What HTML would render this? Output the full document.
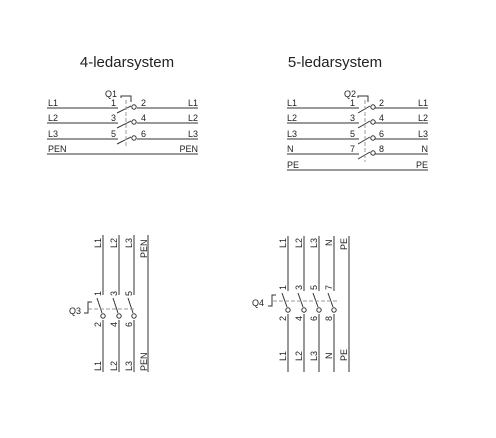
<!DOCTYPE html>
<html><head><meta charset="utf-8"><style>
html,body{margin:0;padding:0;background:#fff;}
svg{display:block;font-family:"Liberation Sans",sans-serif;}
</style></head><body>
<svg width="496" height="438" viewBox="0 0 496 438">
<g stroke="#333" fill="none" stroke-width="1">
<g>
<path d="M47 108H118 M137 108H198 M47 123H118 M137 123H198 M47 139H118 M137 139H198 M47 154H198"/>
<path d="M117 113L131 106 M117 128L131 121 M117 144L131 137"/>
<circle cx="134" cy="107" r="2.2" fill="#fff"/><circle cx="134" cy="122" r="2.2" fill="#fff"/><circle cx="134" cy="138" r="2.2" fill="#fff"/>
<path d="M126 100V146" stroke="#999" stroke-dasharray="4,2"/>
<path d="M121 98V96H131V102"/>
</g>
<g>
<path d="M287 108H359 M375 108H428 M287 123H359 M375 123H428 M287 139H359 M375 139H428 M287 154H359 M375 154H428 M287 170H428"/>
<path d="M358 113L370 106 M358 128L370 121 M358 144L370 137 M358 159L370 152"/>
<circle cx="373" cy="107" r="2.2" fill="#fff"/><circle cx="373" cy="122" r="2.2" fill="#fff"/><circle cx="373" cy="138" r="2.2" fill="#fff"/><circle cx="373" cy="153" r="2.2" fill="#fff"/>
<path d="M365 100V162" stroke="#999" stroke-dasharray="4,2"/>
<path d="M358 98V96H368V102"/>
</g>
<g>
<path d="M103 235V295 M103 320V372 M119 235V295 M119 320V372 M134 235V295 M134 320V372 M148 235V372"/>
<path d="M97 298L102 313 M113 298L118 313 M128 298L133 313"/>
<circle cx="103" cy="316" r="2.2" fill="#fff"/><circle cx="119" cy="316" r="2.2" fill="#fff"/><circle cx="134" cy="316" r="2.2" fill="#fff"/>
<path d="M88 309H136" stroke="#999" stroke-dasharray="4,2"/>
<path d="M84 313H88V302H92"/>
</g>
<g>
<path d="M288 236V291 M288 314V372 M304 236V291 M304 314V372 M319 236V291 M319 314V372 M334 236V291 M334 314V372 M349 236V372"/>
<path d="M282 293L287 307 M298 293L303 307 M313 293L318 307 M328 293L333 307"/>
<circle cx="288" cy="310" r="2.2" fill="#fff"/><circle cx="304" cy="310" r="2.2" fill="#fff"/><circle cx="319" cy="310" r="2.2" fill="#fff"/><circle cx="334" cy="310" r="2.2" fill="#fff"/>
<path d="M273 301H338" stroke="#999" stroke-dasharray="4,2"/>
<path d="M268 306H272V295H276"/>
</g>
</g>
<g fill="#222" font-size="9">
<text x="127" y="67" font-size="15" text-anchor="middle">4-ledarsystem</text>
<text x="335" y="67" font-size="15" text-anchor="middle">5-ledarsystem</text>
<g>
<text x="105" y="97">Q1</text>
<text x="48" y="106">L1</text><text x="48" y="121">L2</text><text x="48" y="137">L3</text><text x="48" y="152">PEN</text>
<text x="198" y="106" text-anchor="end">L1</text><text x="198" y="121" text-anchor="end">L2</text><text x="198" y="137" text-anchor="end">L3</text><text x="198" y="152" text-anchor="end">PEN</text>
<text x="116" y="106" text-anchor="end">1</text><text x="116" y="121" text-anchor="end">3</text><text x="116" y="137" text-anchor="end">5</text>
<text x="141" y="106">2</text><text x="141" y="121">4</text><text x="141" y="137">6</text>
</g>
<g>
<text x="344" y="97">Q2</text>
<text x="287" y="106">L1</text><text x="287" y="121">L2</text><text x="287" y="137">L3</text><text x="287" y="152">N</text><text x="287" y="168">PE</text>
<text x="428" y="106" text-anchor="end">L1</text><text x="428" y="121" text-anchor="end">L2</text><text x="428" y="137" text-anchor="end">L3</text><text x="428" y="152" text-anchor="end">N</text><text x="428" y="168" text-anchor="end">PE</text>
<text x="355" y="106" text-anchor="end">1</text><text x="355" y="121" text-anchor="end">3</text><text x="355" y="137" text-anchor="end">5</text><text x="355" y="152" text-anchor="end">7</text>
<text x="379" y="106">2</text><text x="379" y="121">4</text><text x="379" y="137">6</text><text x="379" y="152">8</text>
</g>
<g>
<text x="69" y="314">Q3</text>
<text transform="translate(101,248) rotate(-90)">L1</text><text transform="translate(117,248) rotate(-90)">L2</text><text transform="translate(132,248) rotate(-90)">L3</text><text transform="translate(147,258) rotate(-90)">PEN</text>
<text transform="translate(101,371) rotate(-90)">L1</text><text transform="translate(117,371) rotate(-90)">L2</text><text transform="translate(132,371) rotate(-90)">L3</text><text transform="translate(147,371) rotate(-90)">PEN</text>
<text transform="translate(101,296) rotate(-90)">1</text><text transform="translate(117,296) rotate(-90)">3</text><text transform="translate(132,296) rotate(-90)">5</text>
<text transform="translate(101,327) rotate(-90)">2</text><text transform="translate(117,327) rotate(-90)">4</text><text transform="translate(132,327) rotate(-90)">6</text>
</g>
<g>
<text x="252" y="306">Q4</text>
<text transform="translate(286,248) rotate(-90)">L1</text><text transform="translate(302,248) rotate(-90)">L2</text><text transform="translate(317,248) rotate(-90)">L3</text><text transform="translate(332,246) rotate(-90)">N</text><text transform="translate(347,250) rotate(-90)">PE</text>
<text transform="translate(286,361) rotate(-90)">L1</text><text transform="translate(302,361) rotate(-90)">L2</text><text transform="translate(317,361) rotate(-90)">L3</text><text transform="translate(332,359) rotate(-90)">N</text><text transform="translate(347,361) rotate(-90)">PE</text>
<text transform="translate(286,290) rotate(-90)">1</text><text transform="translate(302,290) rotate(-90)">3</text><text transform="translate(317,290) rotate(-90)">5</text><text transform="translate(332,290) rotate(-90)">7</text>
<text transform="translate(286,321) rotate(-90)">2</text><text transform="translate(302,321) rotate(-90)">4</text><text transform="translate(317,321) rotate(-90)">6</text><text transform="translate(332,321) rotate(-90)">8</text>
</g>
</g>
</svg>
</body></html>
